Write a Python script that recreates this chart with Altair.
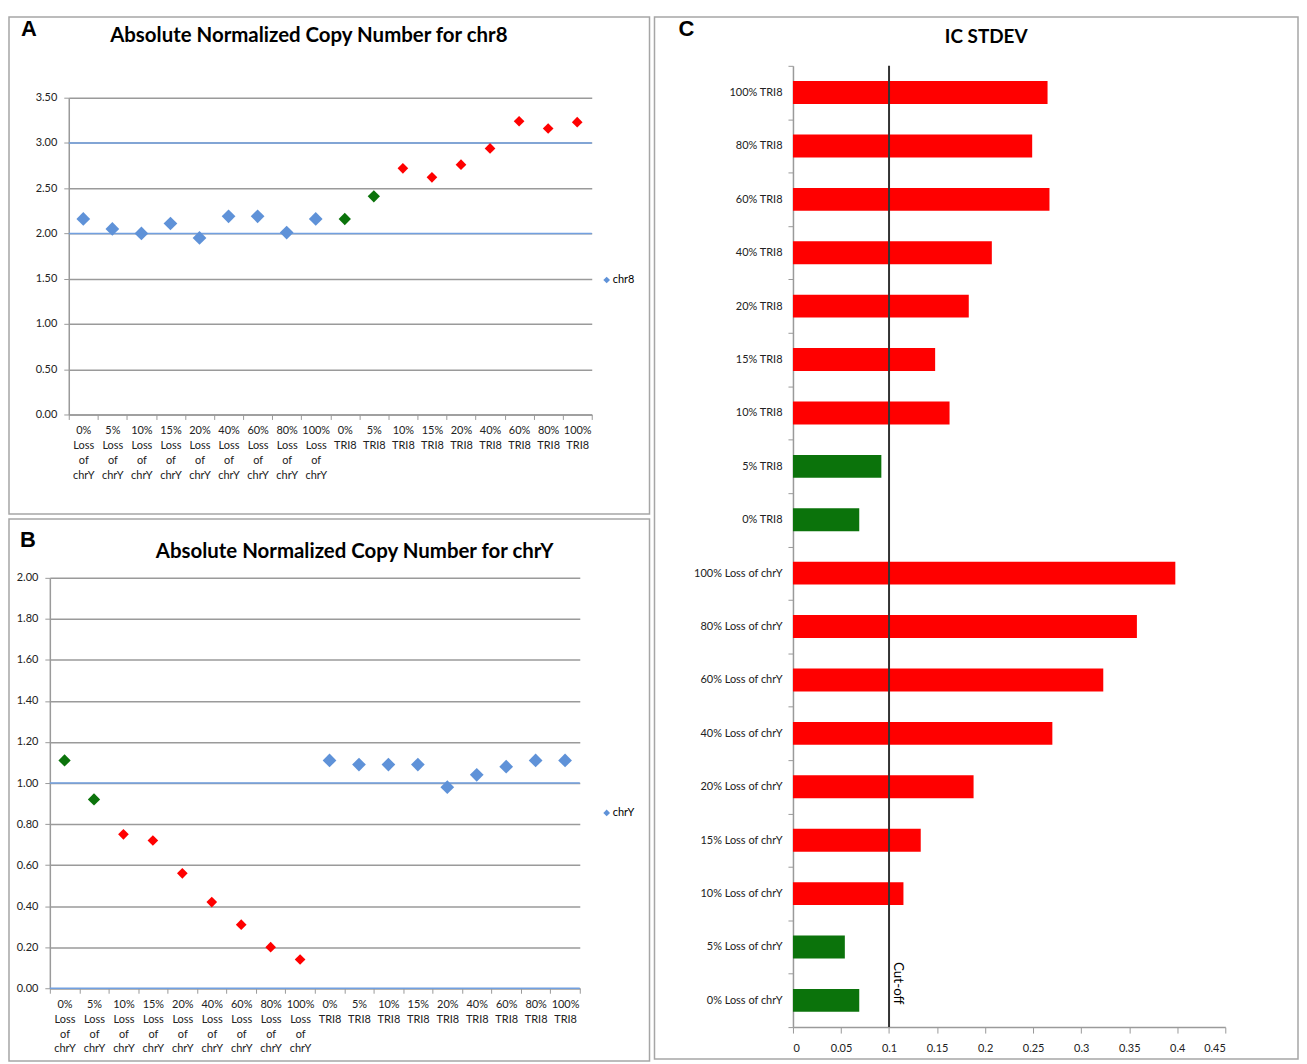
import altair as alt
import pandas as pd

# ---------------- data ----------------
categories = [
    "0% Loss of chrY", "5% Loss of chrY", "10% Loss of chrY", "15% Loss of chrY",
    "20% Loss of chrY", "40% Loss of chrY", "60% Loss of chrY", "80% Loss of chrY",
    "100% Loss of chrY", "0% TRI8", "5% TRI8", "10% TRI8", "15% TRI8", "20% TRI8",
    "40% TRI8", "60% TRI8", "80% TRI8", "100% TRI8",
]
chr8_values = [2.16, 2.05, 2.00, 2.11, 1.95, 2.19, 2.19, 2.01, 2.16,
               2.16, 2.41, 2.72, 2.62, 2.76, 2.94, 3.24, 3.16, 3.23]
chr8_status = ["normal", "normal", "normal", "normal", "normal", "normal", "normal", "normal", "normal",
               "below", "below", "above", "above", "above", "above", "above", "above", "above"]
chrY_values = [1.11, 0.92, 0.75, 0.72, 0.56, 0.42, 0.31, 0.20, 0.14,
               1.11, 1.09, 1.09, 1.09, 0.98, 1.04, 1.08, 1.11, 1.11]
chrY_status = ["below", "below", "above", "above", "above", "above", "above", "above", "above",
               "normal", "normal", "normal", "normal", "normal", "normal", "normal", "normal", "normal"]

stdev_categories = [
    "100% TRI8", "80% TRI8", "60% TRI8", "40% TRI8", "20% TRI8", "15% TRI8", "10% TRI8",
    "5% TRI8", "0% TRI8", "100% Loss of chrY", "80% Loss of chrY", "60% Loss of chrY",
    "40% Loss of chrY", "20% Loss of chrY", "15% Loss of chrY", "10% Loss of chrY",
    "5% Loss of chrY", "0% Loss of chrY",
]
stdev_values = [0.265, 0.249, 0.267, 0.207, 0.183, 0.148, 0.163, 0.092, 0.069,
                0.398, 0.358, 0.323, 0.270, 0.188, 0.133, 0.115, 0.054, 0.069]
stdev_status = ["above", "above", "above", "above", "above", "above", "above", "below", "below",
                "above", "above", "above", "above", "above", "above", "above", "below", "below"]

a_yticks = [0.0, 0.5, 1.0, 1.5, 2.0, 2.5, 3.0, 3.5]
b_yticks = [0.0, 0.2, 0.4, 0.6, 0.8, 1.0, 1.2, 1.4, 1.6, 1.8, 2.0]
c_xticks = [0.0, 0.05, 0.1, 0.15, 0.2, 0.25, 0.3, 0.35, 0.4, 0.45]
a_ref_lines = [2.0, 3.0]
b_ref_lines = [0.0, 1.0]
cutoff = [0.1]

status_domain = ["normal", "below", "above"]
status_colors = ["#5f92d8", "#0b730b", "#ff0000"]
status_sizes = [190, 115, 115]

BLUE_LINE = "#72a0e0"
GRID = "#9a9a9a"
FRAME = "#a6a6a6"
FONT = "Lato"

one_row = pd.DataFrame({"k": [0]})


def text_mark(txt, x, y, size, weight="bold", font=FONT, angle=0, align="center"):
    return alt.Chart(one_row).mark_text(
        text=txt, fontSize=size, fontWeight=weight, font=font, angle=angle,
        align=align, baseline="middle", color="black"
    ).encode(x=alt.value(x), y=alt.value(y))


def scatter_panel(values, status, yticks, ref_lines, W, H, plot, title, title_xy,
                  letter, letter_xy, legend_text, legend_xy):
    x0, x1, y0, y1 = plot  # plot area inside the panel frame
    df = pd.DataFrame({"category": categories, "value": values, "status": status})
    x = alt.X(
        "category:N", sort=categories,
        scale=alt.Scale(type="band", paddingInner=0, paddingOuter=0, range=[x0, x1]),
        axis=alt.Axis(
            title=None, labelAngle=0, labelExpr="split(datum.label, ' ')",
            tickBand="extent", labelFontSize=11, labelLineHeight=15,
            labelFont=FONT, labelColor="#222", labelPadding=5, tickSize=5,
            domainColor=GRID, tickColor=GRID, domainWidth=1.5, grid=False,
            labelBaseline="top", offset=-(H - y1),
        ),
    )
    y = alt.Y(
        "value:Q",
        scale=alt.Scale(domain=[yticks[0], yticks[-1]], nice=False, zero=True, range=[y1, y0]),
        axis=alt.Axis(
            title=None, values=yticks, format=".2f", grid=True, gridColor=GRID,
            gridWidth=1.5, domainColor=GRID, tickColor=GRID, domainWidth=1.5,
            tickSize=5, labelPadding=7, labelFontSize=11, labelFont=FONT,
            labelColor="#222", offset=-x0,
        ),
    )
    pts = alt.Chart(df).mark_point(shape="diamond", filled=True, opacity=1).encode(
        x=x, y=y,
        color=alt.Color("status:N", scale=alt.Scale(domain=status_domain, range=status_colors), legend=None),
        size=alt.Size("status:O", scale=alt.Scale(domain=status_domain, range=status_sizes), legend=None),
    )
    refs = alt.Chart(pd.DataFrame({"ref": ref_lines})).mark_rule(
        color=BLUE_LINE, strokeWidth=1.5
    ).encode(
        y=alt.Y("ref:Q", title=None),
        x=alt.value(x0), x2=alt.value(x1),
    )
    legend_pt = alt.Chart(one_row).mark_point(
        shape="diamond", filled=True, opacity=1, size=45, color=status_colors[0]
    ).encode(x=alt.value(legend_xy[0]), y=alt.value(legend_xy[1]))
    legend_tx = text_mark(legend_text, legend_xy[0] + 6, legend_xy[1], 11,
                          weight="normal", align="left")
    return alt.layer(
        refs, pts, legend_pt, legend_tx,
        text_mark(title, title_xy[0], title_xy[1], 20.5),
        text_mark(letter, letter_xy[0], letter_xy[1], 22, font="Liberation Sans"),
    ).properties(width=W, height=H)


panel_a = scatter_panel(
    chr8_values, chr8_status, a_yticks, a_ref_lines, 643, 499, (60, 585, 81, 399),
    "Absolute Normalized Copy Number for chr8", (301, 19),
    "A", (20, 12), "chr8", (600, 264),
)
panel_b = scatter_panel(
    chrY_values, chrY_status, b_yticks, b_ref_lines, 643, 544, (41, 573, 59, 471),
    "Absolute Normalized Copy Number for chrY", (347, 33),
    "B", (19, 21), "chrY", (600, 295),
)

# ---------------- panel C ----------------
CW, CH = 646, 1046
cx0, cx1, cy0, cy1 = 139, 573, 49, 1014
dfc = pd.DataFrame({"sample": stdev_categories, "stdev": stdev_values, "status": stdev_status})
bars = alt.Chart(dfc).mark_bar(size=23).encode(
    y=alt.Y(
        "sample:N", sort=stdev_categories,
        scale=alt.Scale(type="band", paddingInner=0, paddingOuter=0, range=[cy0, cy1]),
        axis=alt.Axis(
            title=None, tickBand="extent", labelFontSize=11, labelFont=FONT,
            labelColor="#222", tickSize=5, labelPadding=6, domainColor=GRID,
            tickColor=GRID, domainWidth=1.5, grid=False, offset=-cx0,
        ),
    ),
    x=alt.X(
        "stdev:Q", scale=alt.Scale(domain=[0, 0.45], nice=False, range=[cx0, cx1]),
        axis=alt.Axis(
            title=None, values=c_xticks, format="~g", grid=False, labelFontSize=11,
            labelFont=FONT, labelColor="#222", tickSize=6, labelPadding=10,
            domainColor=GRID, tickColor=GRID, domainWidth=1.5, offset=-(CH - cy1),
        ),
    ),
    color=alt.Color("status:N", scale=alt.Scale(domain=["below", "above"], range=["#067806", "#ff0000"]), legend=None),
)
cut_rule = alt.Chart(pd.DataFrame({"cut": cutoff})).mark_rule(color="#333", strokeWidth=2).encode(
    x=alt.X("cut:Q"), y=alt.value(cy0), y2=alt.value(cy1),
)
panel_c = alt.layer(
    bars, cut_rule,
    text_mark("Cut-off", 244, 970, 13.5, weight="normal", angle=90),
    text_mark("IC STDEV", 333, 20, 19),
    text_mark("C", 32, 12, 22, font="Liberation Sans"),
).properties(width=CW, height=CH)

chart = alt.hconcat(
    alt.vconcat(panel_a, panel_b, spacing=3),
    panel_c,
    spacing=3,
).properties(padding=0).configure_view(stroke=FRAME, strokeWidth=1.5)

chart.save("out.html", embed_options={"renderer": "svg", "actions": False})
